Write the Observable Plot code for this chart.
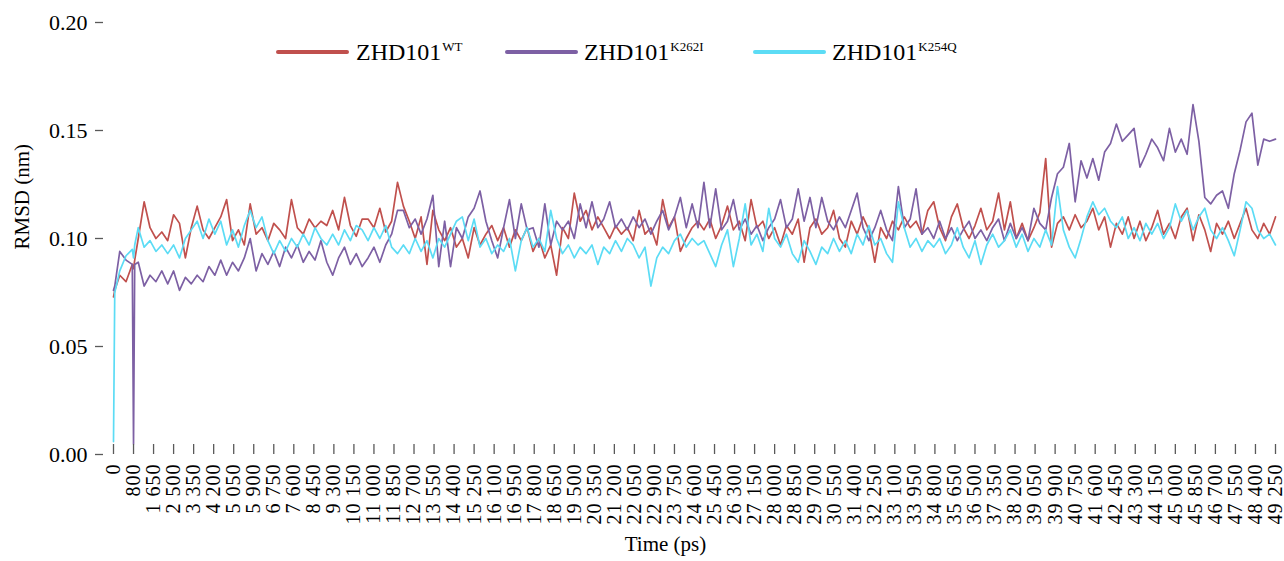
<!DOCTYPE html>
<html>
<head>
<meta charset="utf-8">
<script src="https://cdn.jsdelivr.net/npm/d3@7"></script>
<script src="https://cdn.jsdelivr.net/npm/@observablehq/plot@0.6"></script>
<style>
  body { margin: 0; background: #fff; }
  #wrap { position: relative; width: 1284px; height: 561px; font-family: "Liberation Serif", "Times New Roman", serif; color: #000; }
  #wrap svg { position: absolute; left: 0; top: 0; font-family: "Liberation Serif", "Times New Roman", serif !important; }
  #wrap svg text { font-family: "Liberation Serif", "Times New Roman", serif !important; }
  #wrap svg g[aria-label="x-axis tick label"], #wrap svg g[aria-label="y-axis tick label"], #wrap svg g[aria-label="text"] { font-family: "Liberation Serif", "Times New Roman", serif !important; }
  .sw { position: absolute; top: 50px; height: 4px; border-radius: 2px; }
  .lt { position: absolute; top: 40px; font-size: 24px; line-height: 24px; white-space: nowrap; }
  .lt span { font-size: 13px; position: relative; top: -9px; margin-left: 1px; }
  [aria-label="x-axis tick label"] text { letter-spacing: 1px; }
</style>
</head>
<body>
<div id="wrap"></div>
<script>
// ---- data ----
const seriesNames = ["ZHD101 WT", "ZHD101 K262I", "ZHD101 K254Q"];
const seriesColors = ["#c0504d", "#7d60a4", "#5cdcf5"];
const legendLabels = [["ZHD101", "WT"], ["ZHD101", "K262I"], ["ZHD101", "K254Q"]];

// sampling times (ps)
const times = [0, 50, 250, 500, 750, 800, 850].concat(d3.range(1000, 49251, 250));

const rmsdWT = [
  0.073, 0.076, 0.083, 0.080, 0.088, 0.086, 0.090,
  0.100, 0.117, 0.105, 0.100, 0.103, 0.099, 0.111, 0.107, 0.091, 0.105, 0.115, 0.104, 0.100, 0.105, 0.110,
  0.118, 0.099, 0.104, 0.097, 0.116, 0.102, 0.105, 0.099, 0.107, 0.104, 0.100, 0.118, 0.105, 0.102, 0.109,
  0.105, 0.108, 0.106, 0.113, 0.104, 0.119, 0.106, 0.101, 0.109, 0.109, 0.105, 0.114, 0.103, 0.108, 0.126,
  0.115, 0.108, 0.100, 0.110, 0.088, 0.113, 0.104, 0.099, 0.105, 0.096, 0.100, 0.091, 0.105, 0.097, 0.102,
  0.106, 0.099, 0.105, 0.096, 0.104, 0.099, 0.105, 0.094, 0.100, 0.091, 0.097, 0.083, 0.105, 0.100, 0.121,
  0.108, 0.113, 0.104, 0.110, 0.105, 0.100, 0.106, 0.102, 0.105, 0.099, 0.113, 0.102, 0.105, 0.097, 0.118,
  0.105, 0.110, 0.094, 0.100, 0.105, 0.108,
  0.104, 0.109, 0.100, 0.106, 0.115, 0.104, 0.108, 0.099, 0.118, 0.105, 0.108, 0.100, 0.105, 0.097, 0.106,
  0.102, 0.109, 0.089, 0.105, 0.109, 0.102, 0.105, 0.113, 0.100, 0.096, 0.108, 0.102, 0.110, 0.104, 0.089,
  0.105, 0.100, 0.108, 0.104, 0.110, 0.105, 0.108, 0.102, 0.113, 0.117, 0.105, 0.099, 0.110, 0.116, 0.105,
  0.100, 0.106, 0.114, 0.104, 0.108, 0.121,
  0.104, 0.117, 0.100, 0.107, 0.099, 0.105, 0.112, 0.137, 0.096, 0.107, 0.110, 0.104, 0.111, 0.105, 0.108,
  0.114, 0.104, 0.110, 0.096, 0.107, 0.102, 0.110, 0.100, 0.108, 0.099, 0.105, 0.113, 0.102, 0.107, 0.100,
  0.110, 0.114, 0.099, 0.111, 0.104, 0.094, 0.107, 0.102, 0.108, 0.100, 0.107, 0.114, 0.104, 0.100, 0.107,
  0.102, 0.110
];

const rmsdK262I = [
  0.076, 0.078, 0.094, 0.090, 0.088, 0.005, 0.088,
  0.089, 0.078, 0.083, 0.080, 0.085, 0.079, 0.085, 0.076, 0.082, 0.079, 0.083, 0.080, 0.087, 0.083, 0.090,
  0.083, 0.089, 0.085, 0.091, 0.100, 0.085, 0.093, 0.088, 0.094, 0.087, 0.096, 0.091, 0.097, 0.089, 0.094,
  0.090, 0.099, 0.089, 0.083, 0.091, 0.096, 0.088, 0.093, 0.087, 0.091, 0.096, 0.089, 0.097, 0.102, 0.113,
  0.113, 0.105, 0.109, 0.102, 0.109, 0.120, 0.087, 0.108, 0.087, 0.105, 0.100, 0.110, 0.114, 0.122, 0.108,
  0.099, 0.091, 0.105, 0.118, 0.100, 0.116, 0.104, 0.105, 0.096, 0.116, 0.097, 0.108, 0.104, 0.108, 0.100,
  0.116, 0.105, 0.117, 0.105, 0.109, 0.117, 0.105, 0.109, 0.104, 0.110, 0.105, 0.109, 0.102, 0.108, 0.113,
  0.104, 0.110, 0.119, 0.105, 0.116, 0.105,
  0.126, 0.105, 0.123, 0.104, 0.108, 0.118, 0.104, 0.109, 0.102, 0.106, 0.099, 0.105, 0.109, 0.118, 0.105,
  0.109, 0.123, 0.108, 0.119, 0.105, 0.119, 0.108, 0.104, 0.110, 0.105, 0.113, 0.121, 0.105, 0.099, 0.105,
  0.113, 0.104, 0.099, 0.124, 0.105, 0.109, 0.123, 0.102, 0.105, 0.100, 0.108, 0.100, 0.105, 0.099, 0.104,
  0.108, 0.100, 0.104, 0.099, 0.105, 0.109,
  0.099, 0.107, 0.100, 0.105, 0.099, 0.114, 0.107, 0.104, 0.119, 0.130, 0.133, 0.144, 0.117, 0.136, 0.128,
  0.137, 0.127, 0.140, 0.144, 0.153, 0.145, 0.148, 0.151, 0.133, 0.139, 0.146, 0.142, 0.136, 0.151, 0.140,
  0.146, 0.139, 0.162, 0.145, 0.119, 0.116, 0.120, 0.122, 0.114, 0.130, 0.141, 0.154, 0.158, 0.134, 0.146,
  0.145, 0.146
];

const rmsdK254Q = [
  0.006, 0.075, 0.085, 0.092, 0.095, 0.091, 0.097,
  0.105, 0.096, 0.099, 0.094, 0.097, 0.093, 0.097, 0.091, 0.100, 0.104, 0.108, 0.100, 0.109, 0.102, 0.108,
  0.097, 0.104, 0.096, 0.106, 0.113, 0.105, 0.110, 0.099, 0.093, 0.099, 0.094, 0.100, 0.096, 0.102, 0.097,
  0.105, 0.100, 0.097, 0.102, 0.097, 0.104, 0.099, 0.106, 0.104, 0.099, 0.105, 0.100, 0.106, 0.096, 0.093,
  0.097, 0.093, 0.100, 0.094, 0.099, 0.091, 0.100, 0.096, 0.102, 0.108, 0.110, 0.099, 0.109, 0.096, 0.100,
  0.093, 0.097, 0.094, 0.100, 0.085, 0.099, 0.105, 0.096, 0.100, 0.094, 0.113, 0.100, 0.093, 0.097, 0.091,
  0.096, 0.093, 0.097, 0.088, 0.096, 0.093, 0.099, 0.094, 0.100, 0.097, 0.091, 0.096, 0.078, 0.091, 0.096,
  0.093, 0.099, 0.102, 0.096, 0.100, 0.097,
  0.099, 0.093, 0.087, 0.097, 0.104, 0.087, 0.100, 0.116, 0.097, 0.102, 0.094, 0.114, 0.100, 0.096, 0.102,
  0.093, 0.089, 0.099, 0.094, 0.088, 0.096, 0.093, 0.100, 0.094, 0.099, 0.093, 0.102, 0.097, 0.106, 0.097,
  0.100, 0.093, 0.089, 0.117, 0.105, 0.096, 0.100, 0.094, 0.099, 0.096, 0.100, 0.093, 0.097, 0.105, 0.096,
  0.091, 0.099, 0.088, 0.097, 0.102, 0.096,
  0.099, 0.104, 0.096, 0.102, 0.094, 0.100, 0.096, 0.104, 0.097, 0.124, 0.104, 0.096, 0.091, 0.100, 0.110,
  0.117, 0.111, 0.114, 0.108, 0.105, 0.110, 0.100, 0.105, 0.099, 0.107, 0.102, 0.107, 0.100, 0.105, 0.116,
  0.108, 0.113, 0.104, 0.110, 0.114, 0.104, 0.100, 0.105, 0.099, 0.092, 0.104, 0.117, 0.114, 0.104, 0.100,
  0.102, 0.097
];

const xTicks = [0, 800, 1650, 2500, 3350, 4200, 5050, 5900, 6750, 7600, 8450, 9300, 10150, 11000, 11850,
  12700, 13550, 14400, 15250, 16100, 16950, 17800, 18650, 19500, 20350, 21200, 22050, 22900, 23750, 24600,
  25450, 26300, 27150, 28000, 28850, 29700, 30550, 31400, 32250, 33100, 33950, 34800, 35650, 36500, 37350,
  38200, 39050, 39900, 40750, 41600, 42450, 43300, 44150, 45000, 45850, 46700, 47550, 48400, 49250];
const yTicks = [0, 0.05, 0.10, 0.15, 0.20];
const xTitle = "Time (ps)";
const yTitle = "RMSD (nm)";

// ---- build table ----
const seriesValues = [rmsdWT, rmsdK262I, rmsdK254Q];
const rows = [];
seriesValues.forEach((vals, si) => {
  times.forEach((t, i) => { if (vals[i] != null) rows.push({s: seriesNames[si], t, v: vals[i]}); });
});

const serif = "'Liberation Serif', 'Times New Roman', serif";
const spaceFmt = d3.formatLocale({decimal: ".", thousands: " ", grouping: [3], currency: ["", ""]}).format(",d");
const axisColor = "#595959";
const W = 1284, H = 561, mL = 95, mR = 3, mT = 22, mB = 107;
const frameW = W - mL - mR, frameH = H - mT - mB;

const chart = Plot.plot({
  width: W, height: H,
  marginLeft: mL, marginRight: mR, marginTop: mT, marginBottom: mB,
  style: {fontFamily: serif, background: "transparent", color: "#000", overflow: "visible"},
  x: {type: "linear", domain: [0, 800, 49250], range: [113, 133.03, 1275]},
  y: {domain: [0, 0.2]},
  color: {domain: seriesNames, range: seriesColors},
  marks: [
    Plot.line(rows, {x: "t", y: "v", z: "s", stroke: "s", strokeWidth: 1.7, strokeLinejoin: "round"}),
    Plot.axisY({ticks: yTicks, tickFormat: d3.format(".2f"), tickSize: 0, tickPadding: 8, fontSize: 22, fontFamily: serif, label: null, line: true, stroke: axisColor, strokeWidth: 1.5}),
    Plot.axisX({ticks: xTicks, tickFormat: spaceFmt, tickSize: 0, tickPadding: 9, tickRotate: -90, fontSize: 20, fontFamily: serif, label: null, line: true, stroke: axisColor, strokeWidth: 1.5}),
    Plot.tickX(xTicks, {x: d => d, insetTop: frameH - 10, stroke: axisColor, strokeWidth: 1.3}),
    Plot.tickY(yTicks, {y: d => d, insetRight: frameW - 8, stroke: axisColor, strokeWidth: 1.3}),
    Plot.text([xTitle], {frameAnchor: "bottom", text: d => d, dy: 96, dx: -23, fontSize: 21, fontFamily: serif, fill: "#000"}),
    Plot.text([yTitle], {frameAnchor: "left", text: d => d, rotate: -90, dx: -73, dy: 11, fontSize: 21, fontFamily: serif, fill: "#000"})
  ]
});

const wrap = document.getElementById("wrap");
wrap.appendChild(chart);

// legend (HTML overlay inside the plot area)
const legendPos = [[276, 356], [505, 584], [753, 832]];
legendLabels.forEach(([base, sup], i) => {
  const sw = document.createElement("div");
  sw.className = "sw";
  sw.style.left = legendPos[i][0] + "px";
  sw.style.width = "73px";
  sw.style.background = seriesColors[i];
  wrap.appendChild(sw);
  const lt = document.createElement("div");
  lt.className = "lt";
  lt.style.left = legendPos[i][1] + "px";
  lt.innerHTML = base + "<span>" + sup + "</span>";
  wrap.appendChild(lt);
});
</script>
</body>
</html>
